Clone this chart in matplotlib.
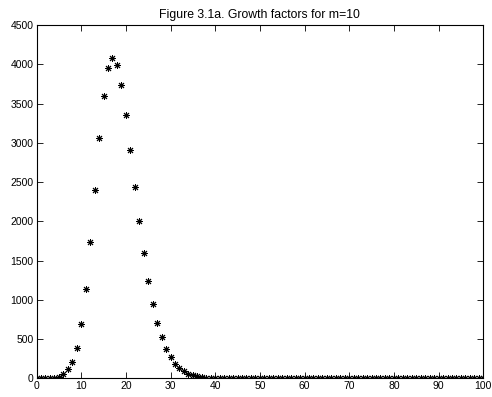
import matplotlib
matplotlib.use("Agg")
import matplotlib.pyplot as plt

# growth factor per step
steps = list(range(0, 101))
growth = [0, 1, 2, 4, 9, 25, 63, 118, 212, 392, 690,
          1138, 1735, 2400, 3060, 3598, 3950, 4076, 3990, 3740, 3355,
          2910, 2443, 2000, 1595, 1240, 945, 710, 525, 378, 276,
          190, 131, 93, 60, 40, 26, 17, 11, 7, 4,
          3, 2, 1, 1, 1, 0, 0, 0, 0, 0,
          0, 0, 0, 0, 0, 0, 0, 0, 0, 0,
          0, 0, 0, 0, 0, 0, 0, 0, 0, 0,
          0, 0, 0, 0, 0, 0, 0, 0, 0, 0,
          0, 0, 0, 0, 0, 0, 0, 0, 0, 0,
          0, 0, 0, 0, 0, 0, 0, 0, 0, 0]

xticks = list(range(0, 101, 10))
yticks = list(range(0, 4501, 500))

plt.rcParams['font.family'] = ['Liberation Sans', 'DejaVu Sans']

fig = plt.figure(figsize=(4.92, 3.97), dpi=100)
ax = fig.add_axes([0.0742, 0.0466, 0.908, 0.890])
# matlab style asterisk: 8 spokes
ax.plot(steps, growth, linestyle='none', marker=(8, 2, 0), color='k',
        markersize=5, markeredgewidth=0.7)
ax.set_xlim(0, 100)
ax.set_ylim(0, 4500)
ax.set_xticks(xticks)
ax.set_yticks(yticks)
ax.tick_params(direction='in', top=True, right=True, labelsize=7.5,
               length=4, width=0.6, pad=2)
for s in ax.spines.values():
    s.set_linewidth(0.8)
ax.set_title("Figure 3.1a. Growth factors for m=10", fontsize=8.8, pad=5)

fig.savefig('out.png', dpi=100)
